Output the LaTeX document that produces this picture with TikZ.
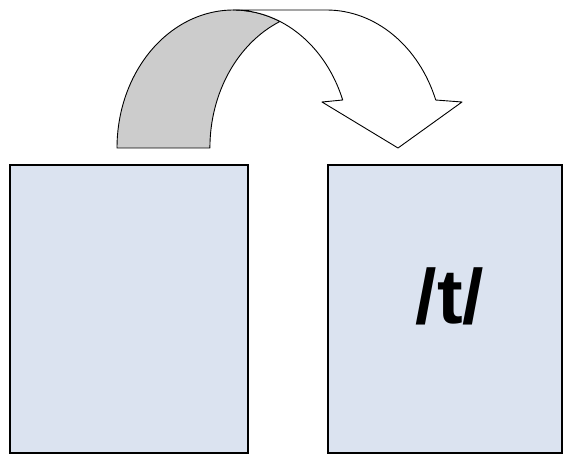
\documentclass[tikz,border=0pt]{standalone}
\usepackage{fontspec}
\setmainfont{Liberation Sans}
\usetikzlibrary{calc}
\definecolor{boxblue}{RGB}{219,227,240}
\definecolor{backgray}{RGB}{204,204,204}
\begin{document}
\begin{tikzpicture}[x=1pt, y=1pt,
        box/.style = {draw, fill=boxblue, line width=1.3pt, inner sep=0pt, minimum height=288pt},
        phon/.style = {font=\fontsize{77}{80}\selectfont\bfseries, inner sep=0pt},
        band/.style = {draw, line width=0.9pt, line join=round}]
        \useasboundingbox (0, 0) rectangle (565, 456);

        \node[box, minimum width=238pt] (left) at (129, 147) {};
        \node[box, minimum width=234pt] (right) at (445, 147) {};
        \node[phon] (tsound) at (450, 160) {/t/};

        % curved arrow, two ellipses shifted by the band width
        \def\rx{116.5}
        \def\ry{138}
        \coordinate (c1) at (233.5, 308);
        \coordinate (c2) at (326.5, 308);

        % back side of the band
        \draw[band, fill=backgray] ($(c1)+(-\rx,0)$)
            arc[start angle=180, end angle=66.5, x radius=\rx, y radius=\ry]
            arc[start angle=113.5, end angle=180, x radius=\rx, y radius=\ry]
            -- cycle;

        % front side with the head
        \draw[band, fill=white] ($(c1)+(0,\ry)$) -- ($(c2)+(0,\ry)$)
            arc[start angle=90, end angle=20.35, x radius=\rx, y radius=\ry]
            -- (462, 354) -- (398, 308) -- (322, 354)
            -- ($(c1)+(109.2,48)$)
            arc[start angle=20.35, end angle=90, x radius=\rx, y radius=\ry]
            -- cycle;
    \end{tikzpicture}
\end{document}
